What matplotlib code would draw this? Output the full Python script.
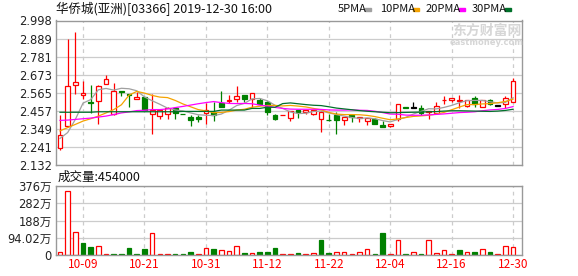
import matplotlib
matplotlib.use('Agg')
import matplotlib.pyplot as plt
from matplotlib.patches import Rectangle
import numpy as np

W, H = 578, 276
RED = '#ff0000'
GREEN = '#008000'
GRID = '#cccccc'
FRAME = '#999999'
COLORS = {'ma5': '#a0a0a0', 'ma10': '#f5a300', 'ma20': '#ff00ff', 'ma30': '#00702a'}

# daily candles, 2019-10-03 .. 2019-12-30
opens = [2.232, 2.365, 2.612, 2.553, 2.511, 2.512, 2.614, 2.439, 2.577, 2.556,
         2.528, 2.536, 2.435, 2.426, 2.437, 2.473, 2.437, 2.418, 2.418, 2.445,
         2.451, 2.504, 2.516, 2.528, 2.548, 2.528, 2.522, 2.506, 2.429, 2.428,
         2.410, 2.459, 2.451, 2.437, 2.408, 2.402, 2.431, 2.400, 2.429, 2.412,
         2.392, 2.408, 2.370, 2.366, 2.406, 2.477, 2.475, 2.475, 2.451, 2.441,
         2.518, 2.522, 2.514, 2.483, 2.534, 2.479, 2.522, 2.487, 2.494, 2.510]
highs = [2.433, 2.886, 2.929, 2.636, 2.609, 2.610, 2.668, 2.620, 2.577, 2.557,
         2.569, 2.540, 2.555, 2.463, 2.477, 2.473, 2.437, 2.431, 2.431, 2.504,
         2.510, 2.577, 2.553, 2.605, 2.553, 2.563, 2.530, 2.514, 2.435, 2.430,
         2.457, 2.459, 2.461, 2.461, 2.455, 2.439, 2.451, 2.416, 2.429, 2.418,
         2.414, 2.410, 2.392, 2.374, 2.494, 2.477, 2.506, 2.490, 2.457, 2.506,
         2.546, 2.534, 2.552, 2.520, 2.546, 2.522, 2.526, 2.487, 2.546, 2.652]
lows = [2.223, 2.360, 2.557, 2.528, 2.443, 2.374, 2.614, 2.433, 2.542, 2.479,
        2.528, 2.460, 2.315, 2.404, 2.408, 2.404, 2.434, 2.363, 2.388, 2.378,
        2.392, 2.479, 2.500, 2.508, 2.506, 2.479, 2.490, 2.431, 2.400, 2.428,
        2.392, 2.412, 2.437, 2.431, 2.329, 2.396, 2.317, 2.372, 2.388, 2.388,
        2.372, 2.376, 2.361, 2.358, 2.392, 2.475, 2.475, 2.431, 2.408, 2.441,
        2.494, 2.510, 2.471, 2.479, 2.481, 2.479, 2.490, 2.487, 2.471, 2.510]
closes = [2.310, 2.607, 2.626, 2.565, 2.505, 2.607, 2.648, 2.577, 2.567, 2.550,
          2.536, 2.463, 2.463, 2.463, 2.473, 2.443, 2.435, 2.402, 2.406, 2.461,
          2.431, 2.479, 2.520, 2.546, 2.526, 2.563, 2.496, 2.451, 2.408, 2.430,
          2.457, 2.447, 2.461, 2.461, 2.447, 2.398, 2.400, 2.416, 2.416, 2.418,
          2.414, 2.378, 2.361, 2.374, 2.494, 2.475, 2.475, 2.441, 2.457, 2.487,
          2.522, 2.534, 2.522, 2.520, 2.494, 2.522, 2.494, 2.487, 2.534, 2.634]

ma5 = [2.290, 2.325, 2.404, 2.502, 2.523, 2.582, 2.590, 2.580, 2.591, 2.588,
       2.576, 2.539, 2.516, 2.495, 2.472, 2.461, 2.455, 2.443, 2.432, 2.429,
       2.427, 2.436, 2.459, 2.487, 2.500, 2.527, 2.530, 2.516, 2.489, 2.470,
       2.449, 2.439, 2.441, 2.451, 2.455, 2.443, 2.433, 2.424, 2.415, 2.410,
       2.413, 2.408, 2.397, 2.389, 2.404, 2.416, 2.436, 2.452, 2.468, 2.467,
       2.476, 2.488, 2.504, 2.517, 2.518, 2.518, 2.510, 2.503, 2.506, 2.534]
ma10 = [2.335, 2.355, 2.374, 2.394, 2.408, 2.424, 2.443, 2.463, 2.492, 2.550,
        2.572, 2.562, 2.548, 2.538, 2.535, 2.518, 2.497, 2.480, 2.463, 2.455,
        2.444, 2.446, 2.451, 2.460, 2.465, 2.477, 2.483, 2.488, 2.488, 2.485,
        2.488, 2.484, 2.479, 2.470, 2.462, 2.446, 2.436, 2.433, 2.433, 2.432,
        2.428, 2.421, 2.411, 2.402, 2.407, 2.415, 2.422, 2.425, 2.429, 2.436,
        2.446, 2.462, 2.478, 2.493, 2.493, 2.497, 2.499, 2.504, 2.512, 2.526]
ma20 = [2.398, 2.400, 2.404, 2.408, 2.412, 2.418, 2.424, 2.433, 2.443, 2.449,
        2.457, 2.459, 2.463, 2.463, 2.467, 2.475, 2.482, 2.490, 2.498, 2.505,
        2.511, 2.505, 2.500, 2.499, 2.500, 2.498, 2.490, 2.484, 2.476, 2.470,
        2.466, 2.465, 2.465, 2.465, 2.464, 2.461, 2.460, 2.460, 2.461, 2.459,
        2.458, 2.453, 2.445, 2.436, 2.435, 2.430, 2.429, 2.429, 2.431, 2.434,
        2.437, 2.441, 2.445, 2.447, 2.450, 2.456, 2.461, 2.464, 2.470, 2.481]
ma30 = [2.447, 2.447, 2.447, 2.447, 2.447, 2.450, 2.450, 2.450, 2.450, 2.450,
        2.450, 2.450, 2.450, 2.450, 2.450, 2.450, 2.452, 2.452, 2.452, 2.452,
        2.452, 2.460, 2.460, 2.460, 2.460, 2.470, 2.470, 2.477, 2.477, 2.499,
        2.503, 2.498, 2.493, 2.489, 2.487, 2.480, 2.472, 2.467, 2.462, 2.457,
        2.453, 2.450, 2.447, 2.444, 2.445, 2.446, 2.447, 2.448, 2.450, 2.451,
        2.454, 2.456, 2.456, 2.455, 2.454, 2.453, 2.452, 2.454, 2.458, 2.465]

volumes = [165000, 3503000, 1247000, 660000, 440000, 477000, 55000, 55000, 55000, 385000,
           55000, 330000, 1192000, 55000, 55000, 55000, 55000, 165000, 55000, 367000,
           330000, 257000, 202000, 477000, 110000, 110000, 165000, 165000, 385000, 55000,
           55000, 110000, 55000, 110000, 825000, 110000, 165000, 165000, 55000, 165000,
           312000, 55000, 1210000, 55000, 807000, 55000, 165000, 55000, 807000, 110000,
           257000, 55000, 275000, 165000, 165000, 312000, 165000, 55000, 477000, 454000]
vol_up = [1, 1, 1, 0, 0, 1, 1, 0, 0, 0, 0, 0, 1, 1, 1, 0, 0, 0, 1, 1,
          0, 1, 1, 1, 0, 1, 0, 0, 0, 1, 1, 0, 1, 1, 0, 0, 1, 1, 1, 1,
          1, 0, 0, 1, 1, 0, 1, 0, 1, 1, 1, 1, 0, 1, 0, 1, 0, 1, 1, 1]

date_idx = [3, 11, 19, 27, 35, 43, 51, 59]
date_labels = ['10-09', '10-21', '10-31', '11-12', '11-22', '12-04', '12-16', '12-30']
price_ticks = [2.132, 2.241, 2.349, 2.457, 2.565, 2.673, 2.781, 2.889, 2.998]
vol_ticks = [0, 940200, 1880400, 2820600, 3760800]
vol_tick_labels = ['0', '94.02万', '188万', '282万', '376万']

plt.rcParams['font.family'] = ['DejaVu Sans', 'Noto Sans CJK SC']
CJK = 'Noto Sans CJK SC'


def box(left, top, right, bottom):
    return [left / W, 1 - bottom / H, (right - left) / W, (bottom - top) / H]


def style_axes(ax):
    for sp in ax.spines.values():
        sp.set_color(FRAME)
        sp.set_linewidth(1.0)
    ax.tick_params(length=0, colors='#222222', labelsize=8.3, pad=3)
    ax.set_xlim(-0.52, 60.16)
    for i in date_idx:
        ax.axvline(i, color=GRID, lw=0.9, ls=(0, (3, 3)), zorder=0)


fig = plt.figure(figsize=(W / 100, H / 100), dpi=100)
ax1 = fig.add_axes(box(56, 20.5, 522, 164.7))
ax2 = fig.add_axes(box(56, 186, 522, 255))

# watermark
fig.text(487 / W, 1 - 31 / H, '东方财富网', family=CJK, fontsize=10, fontweight='bold',
         color='#d6d6d6', ha='center', va='center', zorder=0)
fig.text(487 / W, 1 - 42.5 / H, 'eastmoney.com', fontsize=6, fontweight='bold',
         color='#d6d6d6', ha='center', va='center', zorder=0)

x = np.arange(len(closes))
o = np.array(opens)
c = np.array(closes)
edge = np.where(c > o, RED, np.where(c < o, GREEN, 'black'))
face = np.where(c > o, 'white', edge)
body_lo = np.minimum(o, c)
body_hi = np.maximum(o, c)
body_h = np.maximum(body_hi - body_lo, 0.003)

style_axes(ax1)
ax1.set_ylim(price_ticks[0], price_ticks[-1])
ax1.set_yticks(price_ticks)
ax1.set_yticklabels([f'{t:.3f}' for t in price_ticks])
ax1.set_xticks([])
ax1.yaxis.grid(True, color=GRID, lw=0.9)
ax1.set_axisbelow(True)

ax1.vlines(x, lows, body_lo, colors=edge, lw=0.9, zorder=2)
ax1.vlines(x, body_hi, highs, colors=edge, lw=0.9, zorder=2)
ax1.bar(x, body_h, bottom=body_lo, width=0.62, facecolor=face, edgecolor=edge,
        linewidth=0.9, zorder=2)

ax1.plot(x, ma5, color=COLORS['ma5'], lw=0.9, zorder=3)
ax1.plot(x, ma10, color=COLORS['ma10'], lw=0.9, zorder=3)
ax1.plot(x, ma20, color=COLORS['ma20'], lw=0.9, zorder=3)
ax1.plot(x, ma30, color=COLORS['ma30'], lw=0.9, zorder=3)

style_axes(ax2)
ax2.set_ylim(0, vol_ticks[-1])
ax2.set_yticks(vol_ticks)
ax2.set_yticklabels(vol_tick_labels)
ax2.yaxis.grid(True, color=GRID, lw=0.9)
ax2.set_axisbelow(True)
ax2.set_xticks(date_idx)
ax2.set_xticklabels(date_labels, family=CJK, fontsize=8.5, color=RED)
ax2.tick_params(axis='x', pad=2)

vup = np.array(vol_up) == 1
ax2.bar(x[vup], np.array(volumes)[vup], width=0.6, facecolor='white', edgecolor=RED,
        linewidth=0.9, zorder=2)
ax2.bar(x[~vup], np.array(volumes)[~vup], width=0.6, facecolor=GREEN, edgecolor=GREEN,
        linewidth=0.9, zorder=2)

# title, legend, volume caption
fig.text(56 / W, 1 - 9 / H, '华侨城(亚洲)[03366] 2019-12-30 16:00', family=CJK,
         fontsize=9, color='#111111', ha='left', va='center')
legend = [('5PMA', COLORS['ma5'], 338, 365), ('10PMA', COLORS['ma10'], 380, 413),
          ('20PMA', COLORS['ma20'], 426, 459), ('30PMA', COLORS['ma30'], 472, 505)]
for label, col, tx, rx in legend:
    fig.text(tx / W, 1 - 9.2 / H, label, family=CJK, fontsize=8, color='#111111',
             ha='left', va='center')
    fig.add_artist(Rectangle((rx / W, 1 - 11 / H), 6 / W, 3 / H, color=col,
                             transform=fig.transFigure))
fig.text(58 / W, 1 - 177 / H, '成交量:454000', family=CJK, fontsize=9, color='#111111',
         ha='left', va='center')

fig.savefig('out.png', dpi=100)
